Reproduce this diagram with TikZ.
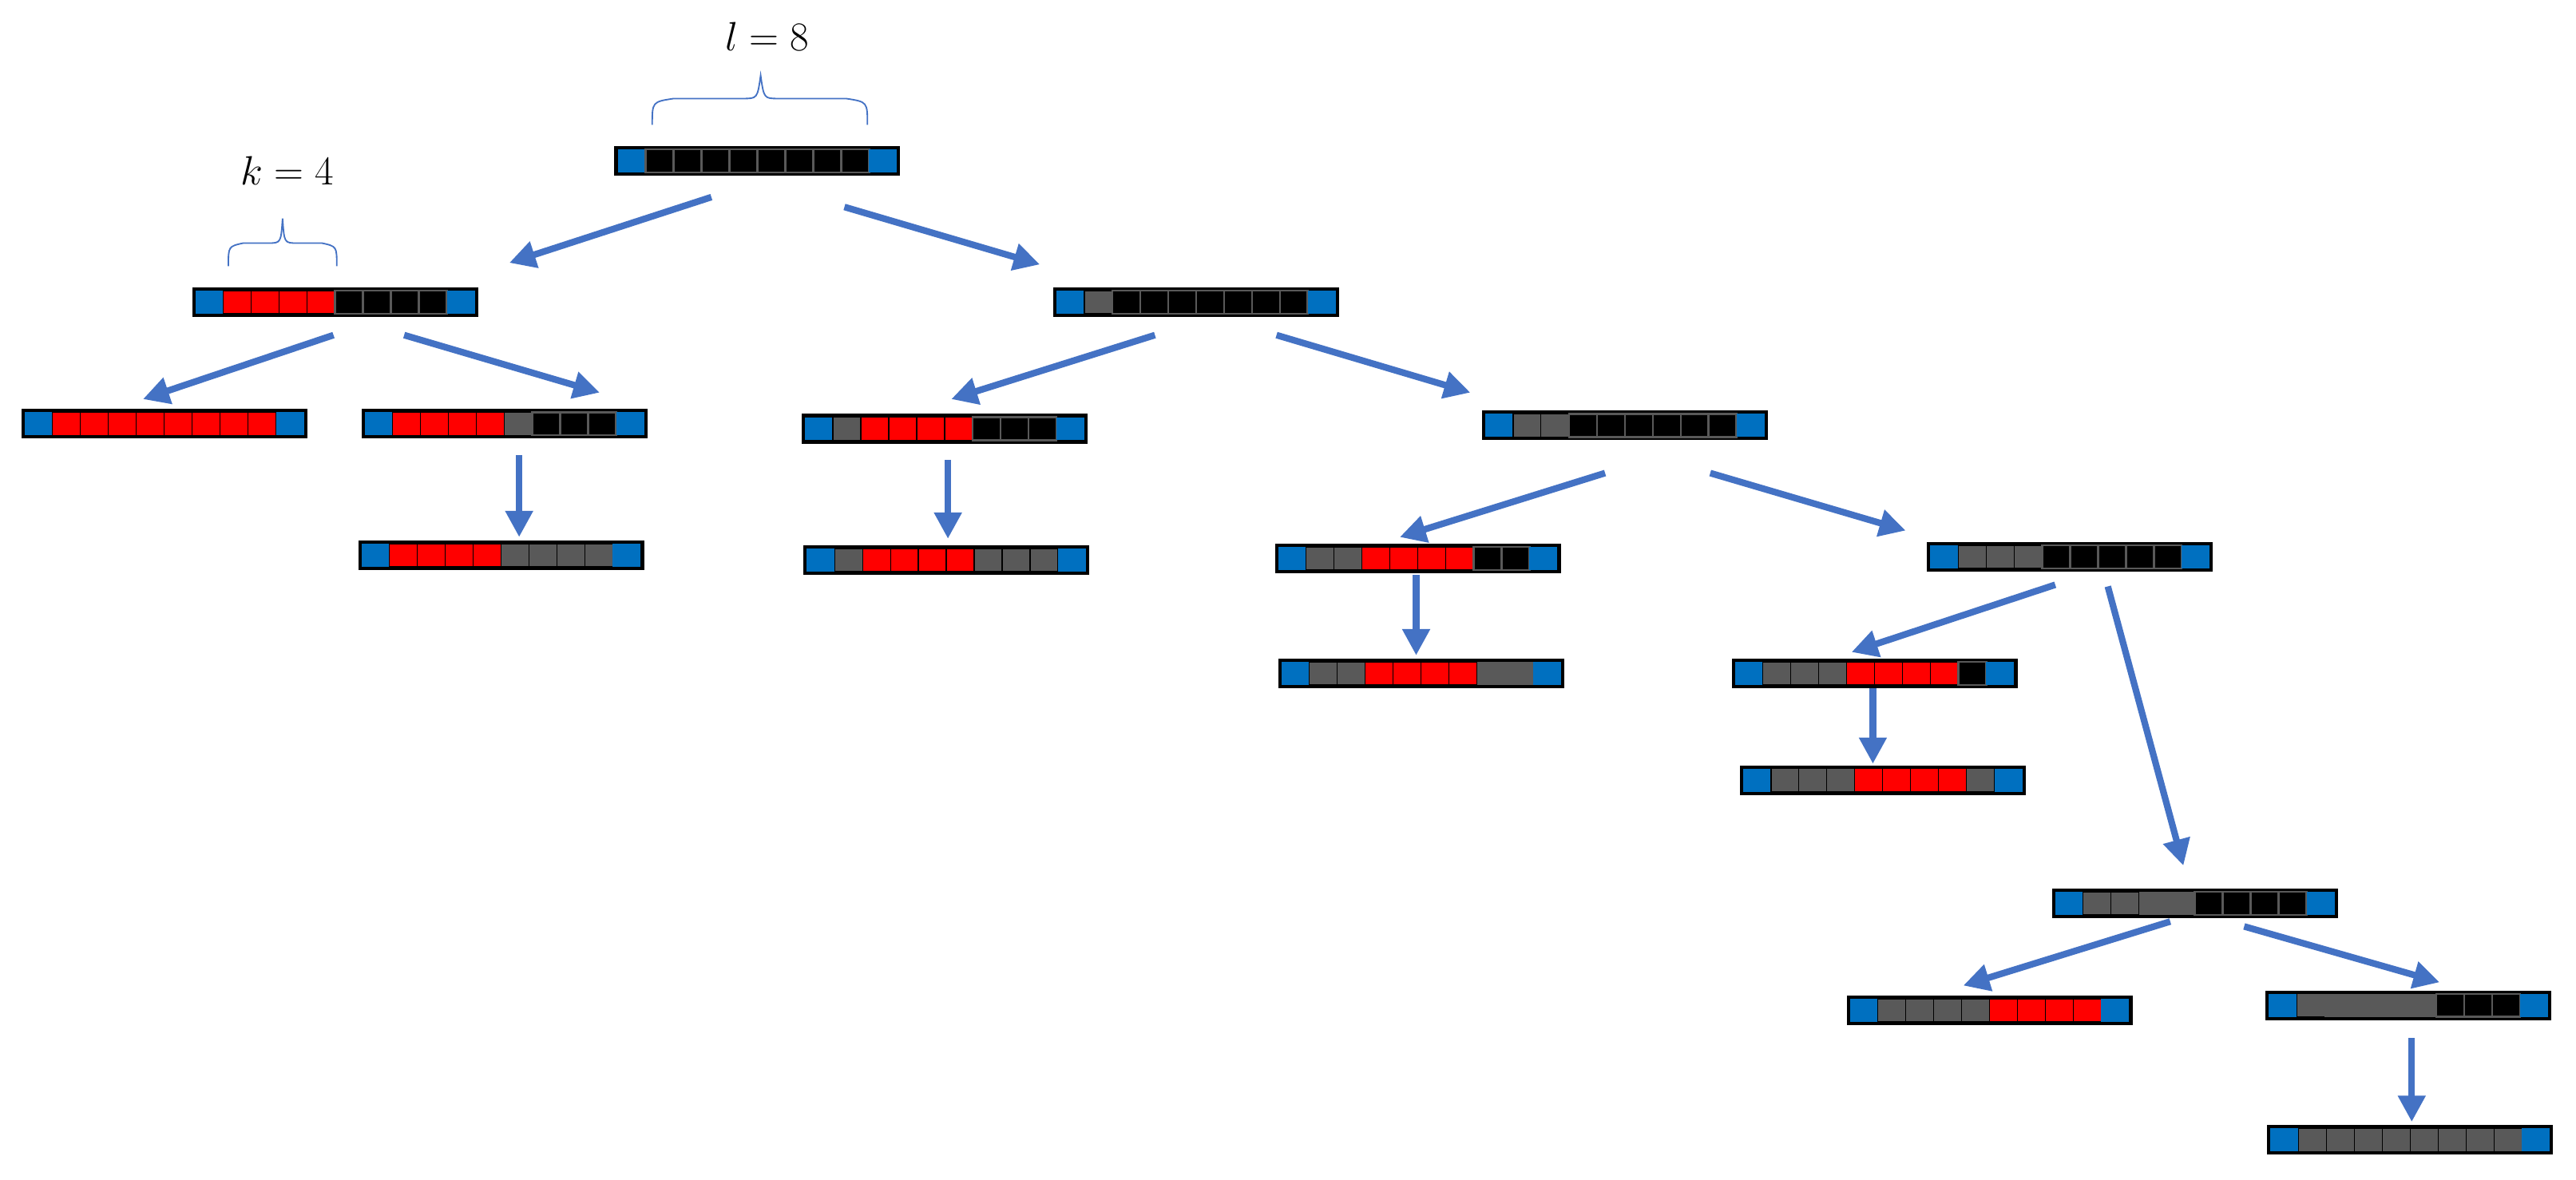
\documentclass[tikz,border=0pt]{standalone}
\usetikzlibrary{arrows.meta}
\definecolor{bblue}{HTML}{0070C0}
\definecolor{agray}{HTML}{595959}
\definecolor{arrc}{HTML}{4472C4}
\tikzset{
 barbox/.style={fill=black,minimum width=174pt,minimum height=18pt,inner sep=0pt,draw=none},
 cellB/.style={fill=bblue},
 cellK/.style={fill=black,draw=agray,line width=1.2pt},
 cellG/.style={fill=agray,draw=black,line width=0.6pt},
 cellM/.style={fill=agray},
 cellR/.style={fill=red,draw=black,line width=0.6pt},
 arr/.style={draw=arrc,line width=4pt,-{Triangle[length=16pt,width=16pt]}},
 brace/.style={draw=arrc,line width=0.9pt}
}
\newcommand\mybar[4]{%
 \node[barbox] (#1) at (#2,#3) {};
 \foreach \c [count=\i from 0] in {#4} {%
  \pgfmathsetmacro\xx{#2-85+17*\i}
  \path[cell\c] (\xx,#3-7) rectangle ++(17,14);
 }}
\begin{document}
\begin{tikzpicture}[x=1pt,y=-1pt]
\useasboundingbox (0,0) rectangle (1568,718);
\mybar{b1}{461}{98}{B,K,K,K,K,K,K,K,K,B}
\mybar{b2}{204}{184}{B,R,R,R,R,K,K,K,K,B}
\mybar{b3}{728}{184}{B,G,K,K,K,K,K,K,K,B}
\mybar{b4}{100}{258}{B,R,R,R,R,R,R,R,R,B}
\mybar{b5}{307}{258}{B,R,R,R,R,G,K,K,K,B}
\mybar{b6}{305}{338}{B,R,R,R,R,G,G,G,G,B}
\mybar{b7}{575}{261}{B,G,R,R,R,R,K,K,K,B}
\mybar{b8}{576}{341}{B,G,R,R,R,R,G,G,G,B}
\mybar{b9}{989}{259}{B,G,G,K,K,K,K,K,K,B}
\mybar{b10}{863}{340}{B,G,G,R,R,R,R,K,K,B}
\mybar{b11}{865}{410}{B,G,G,R,R,R,R,M,M,B}
\mybar{b12}{1260}{339}{B,G,G,G,K,K,K,K,K,B}
\mybar{b13}{1141}{410}{B,G,G,G,R,R,R,R,K,B}
\mybar{b14}{1146}{475}{B,G,G,G,R,R,R,R,G,B}
\mybar{b15}{1336}{550}{B,G,G,M,M,K,K,K,K,B}
\mybar{b16}{1211}{615}{B,G,G,G,G,R,R,R,R,B}
\mybar{b17}{1466}{612}{B,G,M,M,M,M,K,K,K,B}
\mybar{b18}{1467}{694}{B,G,G,G,G,G,G,G,G,B}
\draw[arr] ([shift={(-28,22)}]b1.center) -- ([shift={(106,-24)}]b2.center);
\draw[arr] ([shift={(53,28)}]b1.center) -- ([shift={(-95,-23)}]b3.center);
\draw[arr] ([shift={(-1,20)}]b2.center) -- ([shift={(-13,-15)}]b4.center);
\draw[arr] ([shift={(42,20)}]b2.center) -- ([shift={(58,-19)}]b5.center);
\draw[arr] ([shift={(9,19)}]b5.center) -- ([shift={(11,-11)}]b6.center);
\draw[arr] ([shift={(-25,20)}]b3.center) -- ([shift={(4,-18)}]b7.center);
\draw[arr] ([shift={(49,20)}]b3.center) -- ([shift={(-94,-20)}]b9.center);
\draw[arr] ([shift={(2,19)}]b7.center) -- ([shift={(1,-13)}]b8.center);
\draw[arr] ([shift={(-12,29)}]b9.center) -- ([shift={(-11,-13)}]b10.center);
\draw[arr] ([shift={(52,29)}]b9.center) -- ([shift={(-100,-16)}]b12.center);
\draw[arr] ([shift={(-1,10)}]b10.center) -- ([shift={(-3,-11)}]b11.center);
\draw[arr] ([shift={(-9,17)}]b12.center) -- ([shift={(-14,-13)}]b13.center);
\draw[arr] ([shift={(23,18)}]b12.center) -- ([shift={(-7,-23)}]b15.center);
\draw[arr] ([shift={(-1,9)}]b13.center) -- ([shift={(-6,-10)}]b14.center);
\draw[arr] ([shift={(-15,11)}]b15.center) -- ([shift={(-16,-15)}]b16.center);
\draw[arr] ([shift={(30,14)}]b15.center) -- ([shift={(19,-14)}]b17.center);
\draw[arr] ([shift={(2,20)}]b17.center) -- ([shift={(1,-11)}]b18.center);
\draw[brace] (397,76) .. controls (397,62) .. (410,60) -- (452,60) .. controls (461,60) .. (463,46) .. controls (465,60) .. (474,60) -- (515,60) .. controls (528,62) .. (528,76);
\draw[brace] (139,162) .. controls (139,150) .. (148,148) -- (163,148) .. controls (171,148) .. (172,133) .. controls (173,148) .. (181,148) -- (196,148) .. controls (205,150) .. (205,162);
\node (lab) at (467,22) {\fontsize{28}{32}\selectfont $l=8$};
\node (kab) at (175,104) {\fontsize{28}{32}\selectfont $k=4$};
\end{tikzpicture}
\end{document}
